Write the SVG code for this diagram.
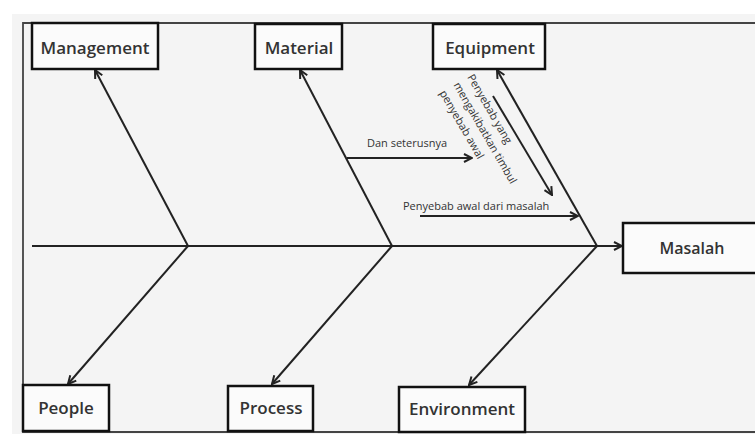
<svg xmlns="http://www.w3.org/2000/svg" width="755" height="434" viewBox="0 0 755 434">
<defs>
<style>
.box{fill:#fbfbfb;stroke:#111;stroke-width:2.5}
.lbl{font-family:"Open Sans","Liberation Sans",sans-serif;font-size:17px;font-weight:600;fill:#333;text-anchor:middle}
.sm{font-family:"Open Sans","Liberation Sans",sans-serif;font-size:11px;fill:#333}
.ln{fill:none;stroke:#222;stroke-width:2;marker-end:url(#arr)}
.frame{fill:none;stroke:#444;stroke-width:1.8}
</style>
<marker id="arr" viewBox="0 0 10 10" refX="9" refY="5" markerWidth="10" markerHeight="10" orient="auto" markerUnits="userSpaceOnUse">
<path d="M1,1 L9,5 L1,9" fill="none" stroke="#222" stroke-width="2"/>
</marker>
</defs>
<rect x="0" y="0" width="755" height="434" fill="#ffffff"/>
<rect x="12" y="14" width="743" height="420" fill="#f4f4f4"/>
<g id="frame">
<path class="frame" d="M755,23 L23,23 L23,432 L755,432"/>
</g>
<g id="connectors">
<path class="ln" d="M32,246 L622,246"/>
<path class="ln" d="M188,246 L95,70"/>
<path class="ln" d="M188,246 L68,384"/>
<path class="ln" d="M392,246 L300,70"/>
<path class="ln" d="M392,246 L272,384"/>
<path class="ln" d="M597,246 L497,70"/>
<path class="ln" d="M597,246 L469,385"/>
<path class="ln" d="M347,158 L472,158"/>
<path class="ln" d="M420,216 L578,216"/>
<path class="ln" d="M493,96 L552,195"/>
</g>
<g id="management"><rect class="box" x="32" y="23" width="126" height="46"/><text class="lbl" x="95" y="54">Management</text></g>
<g id="material"><rect class="box" x="255" y="24" width="87" height="45"/><text class="lbl" x="299" y="54">Material</text></g>
<g id="equipment"><rect class="box" x="433" y="24" width="112" height="45"/><text class="lbl" x="490" y="54">Equipment</text></g>
<g id="masalah"><rect class="box" x="623" y="223" width="145" height="50"/><text class="lbl" x="692" y="254" style="font-size:16px">Masalah</text></g>
<g id="people"><rect class="box" x="23" y="385" width="86" height="46"/><text class="lbl" x="66" y="414">People</text></g>
<g id="process"><rect class="box" x="228" y="386" width="85" height="45"/><text class="lbl" x="271" y="414">Process</text></g>
<g id="environment"><rect class="box" x="399" y="387" width="126" height="45"/><text class="lbl" x="462" y="415">Environment</text></g>
<g id="labels">
<text class="sm" x="367" y="147">Dan seterusnya</text>
<text class="sm" x="403" y="210">Penyebab awal dari masalah</text>
<text class="sm" transform="translate(467,77) rotate(60)"><tspan x="0" y="0">Penyebab yang</tspan><tspan x="0" y="16">mengakibatkan timbul</tspan><tspan x="0" y="32">penyebab awal</tspan></text>
</g>
</svg>
